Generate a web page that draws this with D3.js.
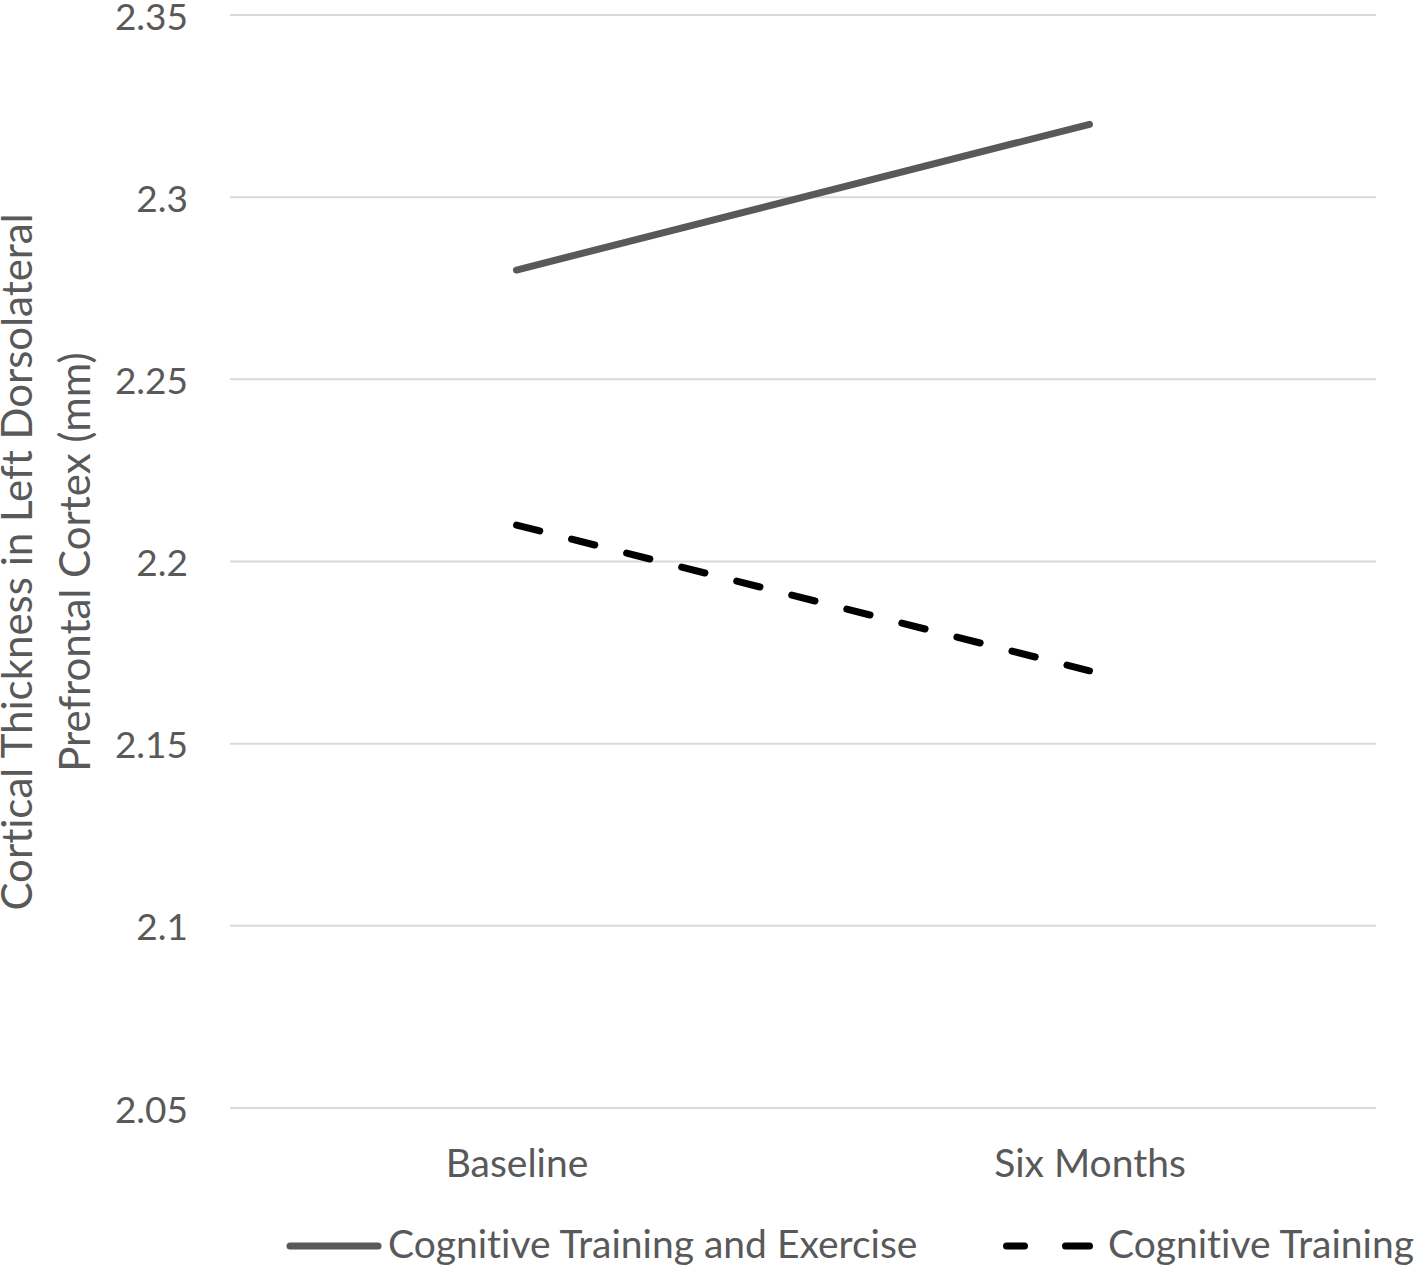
<!DOCTYPE html>
<html><head><meta charset="utf-8">
<script src="https://cdn.jsdelivr.net/npm/d3@7"></script>
<style>body{margin:0;background:#fff}svg{display:block}text{font-family:Lato,"Open Sans",sans-serif;font-variant-ligatures:none;font-feature-settings:"liga" 0}</style>
</head><body>
<script>
const categories = ["Baseline", "Six Months"];
const seriesNames = ["Cognitive Training and Exercise", "Cognitive Training"];
const exerciseValues = [2.28, 2.32];
const trainingValues = [2.21, 2.17];
const yTicks = [2.05, 2.1, 2.15, 2.2, 2.25, 2.3, 2.35];
const yTickLabels = ["2.05", "2.1", "2.15", "2.2", "2.25", "2.3", "2.35"];

const W = 1418, H = 1266;
const svg = d3.select("body").append("svg").attr("width", W).attr("height", H);
const x = d3.scalePoint().domain(categories).range([230, 1376]).padding(0.5);
const y = d3.scaleLinear().domain([2.05, 2.35]).range([1108, 15]);
const tc = "#595959";

// gridlines
svg.append("g").selectAll("line").data(yTicks).join("line")
  .attr("x1", 230).attr("x2", 1376)
  .attr("y1", d => y(d)).attr("y2", d => y(d))
  .attr("stroke", "#d9d9d9").attr("stroke-width", 2);

// y axis labels
const yAxis = d3.axisLeft(y).tickValues(yTicks).tickFormat((d, i) => yTickLabels[i]).tickSize(0).tickPadding(0);
const yg = svg.append("g").attr("transform", "translate(188,0)").call(yAxis);
yg.select(".domain").remove();
yg.selectAll("text").attr("font-size", 37).attr("fill", tc).attr("font-family", "Lato").attr("dy", "0.38em");

// x axis labels
const xAxis = d3.axisBottom(x).tickSize(0).tickPadding(0);
const xg = svg.append("g").attr("transform", "translate(0,1150)").call(xAxis);
xg.select(".domain").remove();
xg.selectAll("text").attr("font-size", 39).attr("fill", tc).attr("font-family", "Lato").attr("dy", "0.7em");

// y title
const yt = svg.append("text").attr("transform", "translate(0,562) rotate(-90)")
  .attr("text-anchor", "middle").attr("font-size", 42).attr("fill", tc);
yt.append("tspan").attr("x", 0).attr("y", 32).text("Cortical Thickness in Left Dorsolateral");
yt.append("tspan").attr("x", 0).attr("y", 90).text("Prefrontal Cortex (mm)");

const line = d3.line().x((d, i) => x(categories[i])).y(d => y(d));
svg.append("path").datum(exerciseValues).attr("d", line)
  .attr("fill", "none").attr("stroke", "#595959").attr("stroke-width", 7).attr("stroke-linecap", "round");
svg.append("path").datum(trainingValues).attr("d", line)
  .attr("fill", "none").attr("stroke", "#000").attr("stroke-width", 7)
  .attr("stroke-linecap", "round").attr("stroke-dasharray", "24,32.8");

// legend
const lg = svg.append("g");
lg.append("line").attr("x1", 290).attr("x2", 378).attr("y1", 1246).attr("y2", 1246)
  .attr("stroke", "#595959").attr("stroke-width", 7).attr("stroke-linecap", "round");
lg.append("text").attr("x", 388).attr("y", 1258).attr("font-size", 39).attr("fill", tc).text(seriesNames[0]);
lg.append("line").attr("x1", 1006.5).attr("x2", 1089.5).attr("y1", 1246).attr("y2", 1246)
  .attr("stroke", "#000").attr("stroke-width", 7).attr("stroke-linecap", "round").attr("stroke-dasharray", "18,41,24");
lg.append("text").attr("x", 1108).attr("y", 1258).attr("font-size", 39).attr("fill", tc).text(seriesNames[1]);
</script>
</body></html>
